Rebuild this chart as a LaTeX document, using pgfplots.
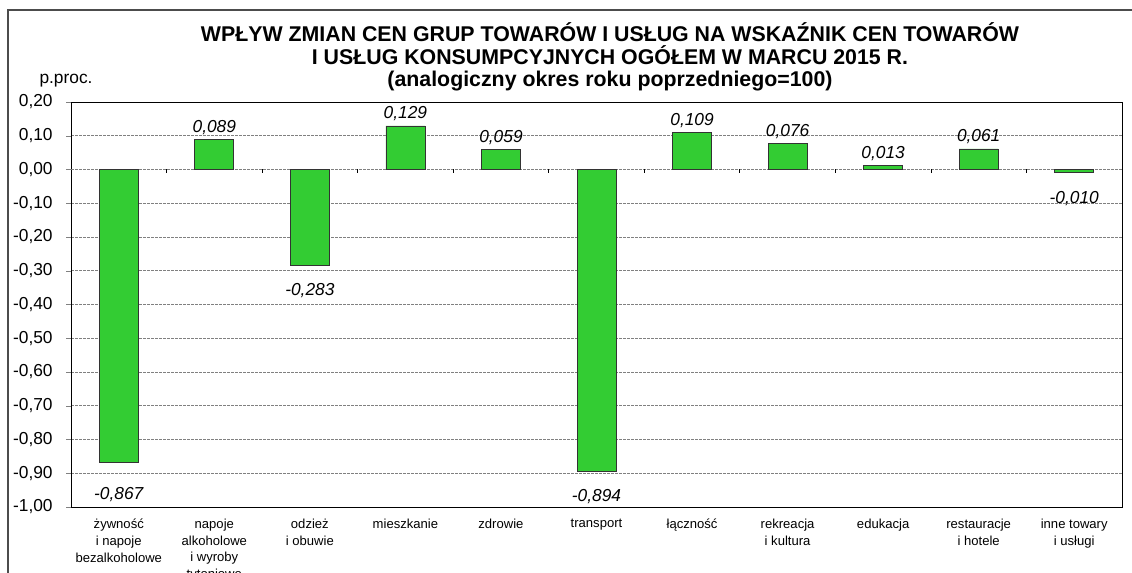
\documentclass[border=0pt]{standalone}
\usepackage{fontspec}
\setmainfont{Liberation Sans}
\usepackage{pgfplots}
\pgfplotsset{compat=1.18}
\definecolor{barg}{HTML}{33CC33}
\begin{document}
\begin{tikzpicture}
\useasboundingbox (0,0) rectangle (849pt,429.75pt);
\draw[gray!60!black, line width=0.8pt] (6pt,-2pt) -- (6pt,422.25pt) -- (852pt,422.25pt);
\node[font=\bfseries\fontsize{16}{17}\selectfont, align=center] at (457.5pt,387pt) {WPŁYW ZMIAN CEN GRUP TOWARÓW I USŁUG NA WSKAŹNIK CEN TOWARÓW\\I USŁUG KONSUMPCYJNYCH OGÓŁEM W MARCU 2015 R.\\(analogiczny okres roku poprzedniego=100)};
\node[font=\fontsize{13}{15}\selectfont] at (49.5pt,369pt) {p.proc.};
\begin{axis}[
  at={(53.25pt,49.5pt)}, anchor=south west, scale only axis,
  width=788.25pt, height=303.75pt,
  xmin=-0.5, xmax=10.5, ymin=-1, ymax=0.2,
  /pgf/number format/assume math mode=true,
  ytick={-1,-0.9,-0.8,-0.7,-0.6,-0.5,-0.4,-0.3,-0.2,-0.1,0,0.1,0.2},
  yticklabel style={/pgf/number format/.cd, fixed, fixed zerofill, precision=2, use comma, /tikz/.cd, font=\fontsize{13}{15}\selectfont, xshift=-6.5pt},
  ymajorgrids, major grid style={gray, dash pattern=on 2pt off 1pt, line width=0.5pt},
  tick align=outside, ytick pos=left, major tick length=3.75pt,
  extra y ticks={0}, extra y tick labels={},
  extra y tick style={grid style={solid, black, line width=0.8pt}, major tick length=0pt},
  xtick={0,...,10},
  xticklabels={{żywność\\i napoje\\bezalkoholowe},{napoje\\alkoholowe\\i wyroby\\tytoniowe},{odzież\\i obuwie},{mieszkanie},{zdrowie},{transport},{łączność},{rekreacja\\i kultura},{edukacja},{restauracje\\i hotele},{inne towary\\i usługi}},
  xtick style={draw=none},
  xticklabel style={align=center, font=\fontsize{9.8}{12.4}\selectfont, anchor=north, yshift=-2pt},
  axis line style={black, line width=0.7pt},
  ybar, bar width=29.25pt, bar shift=0pt,
]
\addplot[fill=barg, draw=black!80, line width=0.6pt,
  nodes near coords={\pgfmathprintnumber[fixed, fixed zerofill, precision=3, use comma]{\pgfplotspointmeta}},
  every node near coord/.append style={font=\itshape\fontsize{13}{15}\selectfont, anchor=south, text=black}]
  coordinates {(1,0.089) (3,0.129) (4,0.059) (6,0.109) (7,0.076) (8,0.013) (9,0.061)};
\addplot[fill=barg, draw=black!80, line width=0.6pt,
  nodes near coords={\pgfmathprintnumber[fixed, fixed zerofill, precision=3, use comma]{\pgfplotspointmeta}},
  every node near coord/.append style={font=\itshape\fontsize{13}{15}\selectfont, anchor=north, yshift=-10pt, text=black}]
  coordinates {(2,-0.283) (5,-0.894) (10,-0.010)};
\addplot[fill=barg, draw=black!80, line width=0.6pt,
  nodes near coords={\pgfmathprintnumber[fixed, fixed zerofill, precision=3, use comma]{\pgfplotspointmeta}},
  every node near coord/.append style={font=\itshape\fontsize{13}{15}\selectfont, anchor=north, yshift=-15.5pt, text=black}]
  coordinates {(0,-0.867)};
\pgfplotsinvokeforeach{0.5,1.5,2.5,3.5,4.5,5.5,6.5,7.5,8.5,9.5}{
  \draw[black, line width=0.6pt] (axis cs:#1,0) -- ([yshift=-3pt]axis cs:#1,0);
}
\end{axis}
\end{tikzpicture}
\end{document}
